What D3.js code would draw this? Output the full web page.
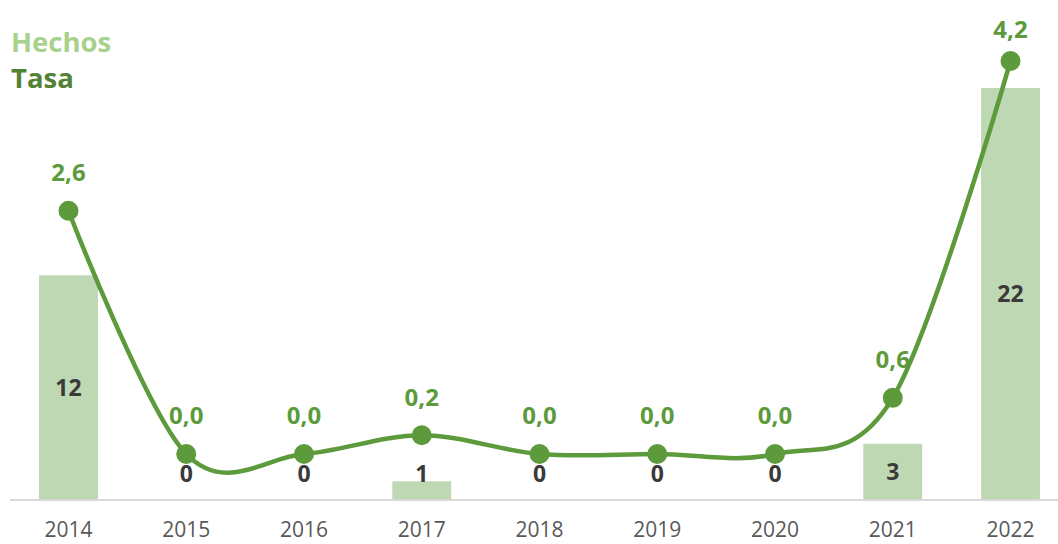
<!DOCTYPE html>
<html><head><meta charset="utf-8">
<script src="https://cdn.jsdelivr.net/npm/d3@7"></script>
<style>body{margin:0;background:#fff}svg{display:block;font-family:"Open Sans",sans-serif}</style>
</head><body>
<svg id="c" width="1058" height="544"></svg>
<script>
const years = ["2014","2015","2016","2017","2018","2019","2020","2021","2022"];
const hechos = [12,0,0,1,0,0,0,3,22];
const tasa = [2.6,0.0,0.0,0.2,0.0,0.0,0.0,0.6,4.2];
const seriesNames = ["Hechos","Tasa"];

const svg = d3.select("#c");
const baseY = 500;
const x = d3.scaleBand().domain(years).range([9.6,1069.4]).paddingInner(0.5).paddingOuter(0.25);
const yBar = d3.scaleLinear().domain([0,22]).range([baseY,88]);
const yLine = d3.scaleLinear().domain([0,4.2]).range([454,61]);
const fmt = v => d3.format(".1f")(v).replace(".", ",");

// bars
svg.selectAll("rect.bar").data(hechos).join("rect")
  .attr("x",(d,i)=>x(years[i])).attr("width",x.bandwidth())
  .attr("y",d=>yBar(d)).attr("height",d=>baseY-yBar(d))
  .attr("fill","#bfd8b4");

// baseline axis
const ax = svg.append("g").attr("transform",`translate(0,${baseY})`)
  .call(d3.axisBottom(x).tickSize(0));
ax.select(".domain").attr("d","M10,0H1058").attr("stroke","#d9d9d9").attr("stroke-width",2);
ax.selectAll("text").attr("font-size",21).attr("fill","#595959")
  .attr("font-family","'Open Sans',sans-serif").attr("dy","0").attr("y",37);

// bar labels
svg.selectAll("text.bl").data(hechos).join("text")
  .attr("x",(d,i)=>x(years[i])+x.bandwidth()/2)
  .attr("y",d=>Math.min((yBar(d)+baseY)/2, baseY-26))
  .attr("dy","0.35em").attr("text-anchor","middle")
  .attr("font-size",23).attr("font-weight",700).attr("fill","#3a3a3a")
  .text(d=>d);

// line
const cx = (i)=>x(years[i])+x.bandwidth()/2;
const line = d3.line().x((d,i)=>cx(i)).y(d=>yLine(d)).curve(d3.curveCardinal.tension(0));
svg.append("path").datum(tasa).attr("d",line).attr("fill","none")
  .attr("stroke","#5c9a3c").attr("stroke-width",4.5);
svg.selectAll("circle.pt").data(tasa).join("circle")
  .attr("cx",(d,i)=>cx(i)).attr("cy",d=>yLine(d)).attr("r",10).attr("fill","#5c9a3c");
svg.selectAll("text.ll").data(tasa).join("text")
  .attr("x",(d,i)=>cx(i)).attr("y",d=>Math.max(yLine(d)-38, 30))
  .attr("dy","0.35em").attr("text-anchor","middle")
  .attr("font-size",24).attr("font-weight",700).attr("fill","#5c9a3c")
  .text(d=>fmt(d));

// legend
const legColors = ["#a9d18e","#548235"];
svg.selectAll("text.leg").data(seriesNames).join("text")
  .attr("x",11).attr("y",(d,i)=>52+i*36)
  .attr("font-size",27.5).attr("font-weight",700).attr("fill",(d,i)=>legColors[i])
  .text(d=>d);
</script>
</body></html>
